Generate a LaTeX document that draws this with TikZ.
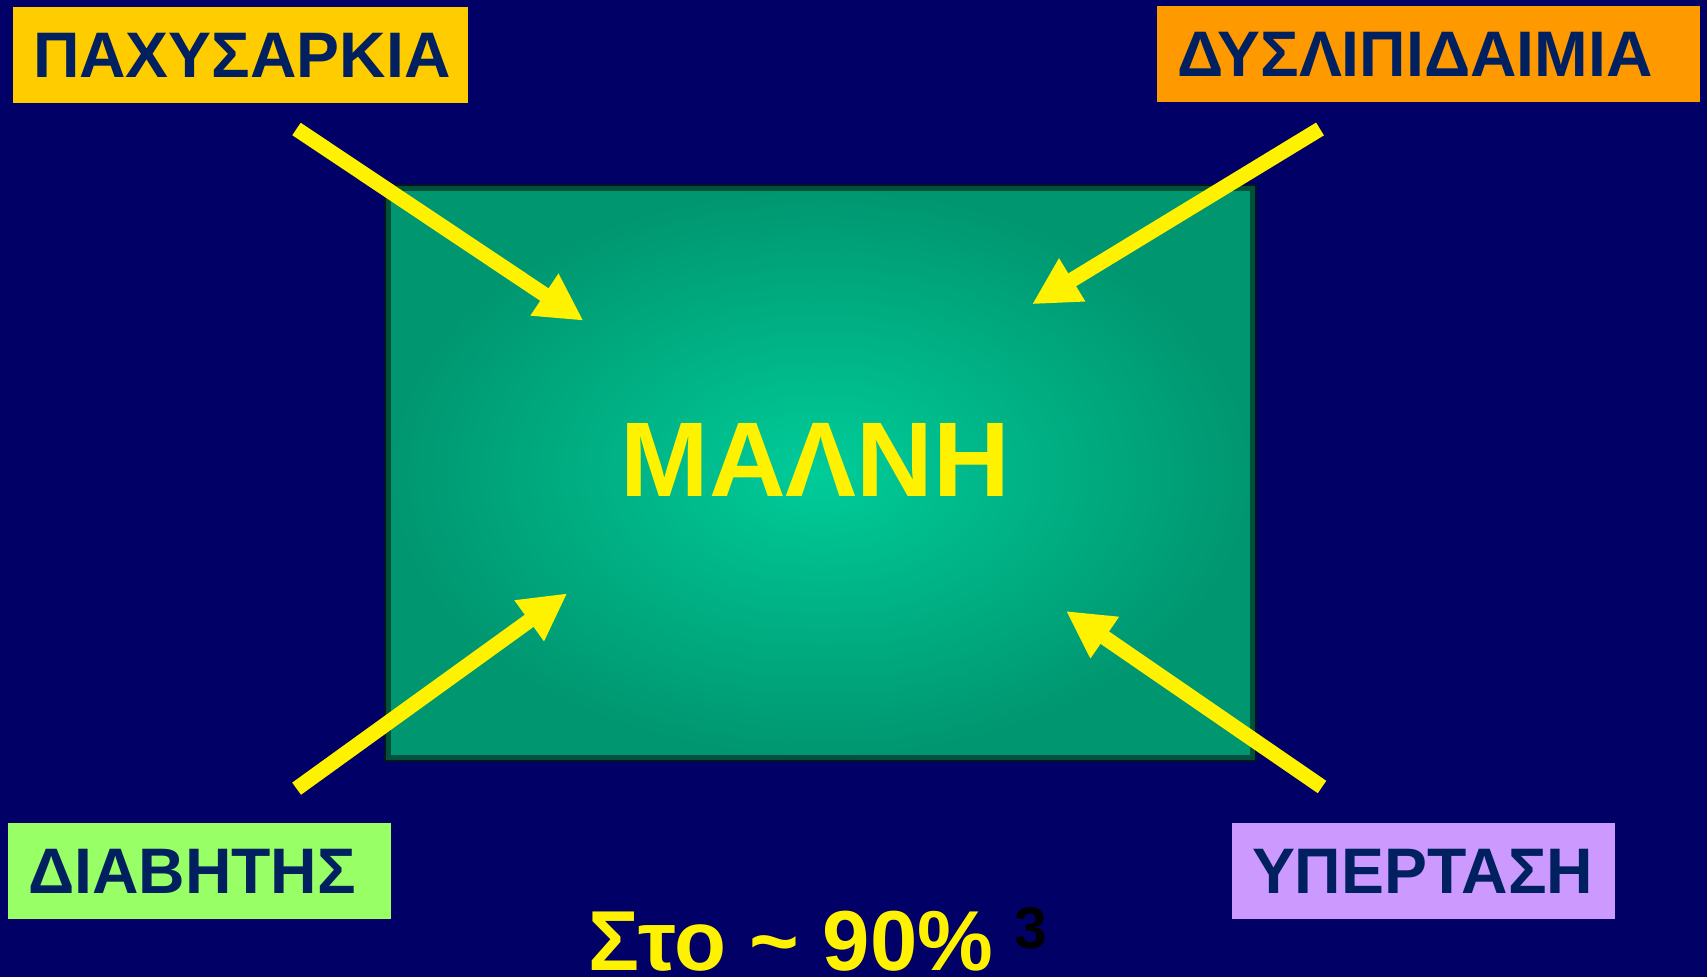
\documentclass[tikz,border=0pt]{standalone}
\usepackage{fontspec}
\setmainfont{Liberation Sans}
\usetikzlibrary{arrows.meta}
\definecolor{bg}{RGB}{0,0,102}
\definecolor{labeltext}{RGB}{0,32,96}
\definecolor{obesity}{RGB}{255,204,0}
\definecolor{lipids}{RGB}{255,153,0}
\definecolor{diabetes}{RGB}{153,255,102}
\definecolor{pressure}{RGB}{204,153,255}
\definecolor{glowin}{RGB}{0,204,153}
\definecolor{glowout}{RGB}{0,150,112}
\definecolor{boxedge}{RGB}{0,80,60}
\definecolor{boxshadow}{RGB}{0,20,36}

\begin{document}
\begin{tikzpicture}[x=0.01cm, y=-0.01cm,
  riskbox/.style={fill=#1, text=labeltext, anchor=north west, align=left,
    font=\bfseries\fontsize{18.3pt}{20pt}\selectfont,
    inner xsep=0.2cm, inner ysep=0pt, minimum height=0.96cm, outer sep=0pt},
  push/.style={draw=yellow, line width=0.15cm, -{Triangle[length=0.47cm, width=0.47cm]}}]
  \useasboundingbox (0,0) rectangle (1707,977);
  \fill[bg] (0,0) rectangle (1707,977);

  \node[draw=boxedge, line width=0.05cm, preaction={draw=boxshadow, line width=0.1cm},
        inner color=glowin, outer color=glowout, inner sep=0pt, outer sep=0pt,
        minimum width=8.63cm, minimum height=5.68cm] (box) at (820.5,473) {};
  \node[anchor=base, text=yellow, font=\bfseries\fontsize{30.2pt}{32pt}\selectfont] (malh) at (815.5,497) {ΜΑΛΝΗ};

  \node[riskbox=obesity, text width=4.15cm] (pax) at (13,7) {ΠΑΧΥΣΑΡΚΙΑ};
  \node[riskbox=lipids, text width=5.03cm] (dys) at (1157,6) {ΔΥΣΛΙΠΙΔΑΙΜΙΑ};
  \node[riskbox=diabetes, text width=3.43cm] (dia) at (8,823) {ΔΙΑΒΗΤΗΣ};
  \node[riskbox=pressure, text width=3.43cm] (ype) at (1232,823) {ΥΠΕΡΤΑΣΗ};

  \coordinate (paxTail) at (296.5,129);
  \coordinate (paxTip) at (583.5,320.7);
  \coordinate (dysTail) at (1320,129);
  \coordinate (dysTip) at (1032,304.3);
  \coordinate (diaTail) at (296.6,788.7);
  \coordinate (diaTip) at (567.3,593.3);
  \coordinate (ypeTail) at (1322,787);
  \coordinate (ypeTip) at (1066,611);

  \draw[push] (paxTail) -- (paxTip);
  \draw[push] (dysTail) -- (dysTip);
  \draw[push] (diaTail) -- (diaTip);
  \draw[push] (ypeTail) -- (ypeTip);

  \node[anchor=base, text=yellow, inner sep=0pt, font=\bfseries\fontsize{24.2pt}{26pt}\selectfont] (share) at (791,970) {Στο \textasciitilde{} 90\%};
  \node[anchor=base west, text=black, inner sep=0pt, font=\bfseries\fontsize{16.7pt}{18pt}\selectfont] (ref) at (1014,948) {3};
\end{tikzpicture}
\end{document}
